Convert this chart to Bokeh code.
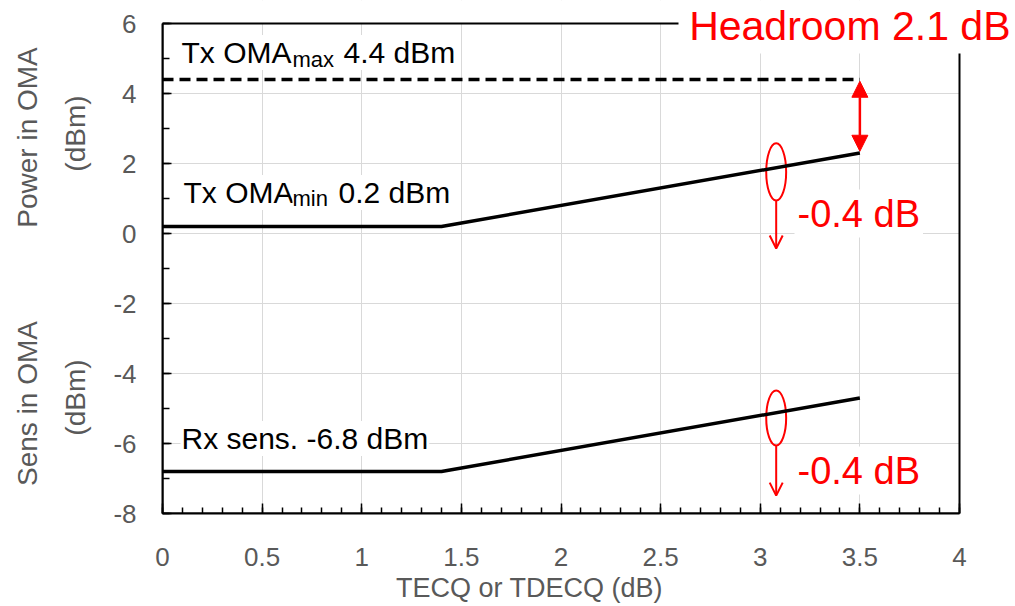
import math
from bokeh.plotting import figure
from bokeh.models import (Label, Arrow, NormalHead, OpenHead, Range1d, LinearAxis,
                          FixedTicker, SingleIntervalTicker, BoxAnnotation)
from bokeh.embed import file_html
from bokeh.resources import INLINE

# ---------------- data ----------------
tecq = [0.0, 1.4, 3.5]
tx_oma_min = [0.2, 0.2, 2.3]
rx_sens = [-6.8, -6.8, -4.7]
tx_max_x = [0.0, 3.5]
tx_oma_max = [4.4, 4.4]

x_ticks = [0, 0.5, 1, 1.5, 2, 2.5, 3, 3.5, 4]
y_ticks = [-8, -6, -4, -2, 0, 2, 4, 6]
x_min, x_max = 0.0, 4.0
y_min, y_max = -8.0, 6.0

headroom_x = 3.5
ellipse_x = [3.08, 3.08]
ellipse_y = [1.76, -5.27]
ellipse_w = [0.1, 0.1]
ellipse_h = [1.63, 1.57]
drop_start = [0.94, -6.06]
drop_end = [-0.43, -7.49]

FONT = "Liberation Sans"
GRAY = "#595959"
RED = "#ff0000"

W, H = 1015, 606
L, B = 162, 93
FW, FH = 797, 490          # size of the 0..4 / -8..6 box in pixels
T_BOX = 23                 # top of the box from the top of the page

sx = (x_max - x_min) / FW
sy = (y_max - y_min) / FH
x_hi = x_min + (W - L) * sx
y_hi = y_max + T_BOX * sy

p = figure(width=W, height=H, output_backend="svg", toolbar_location=None,
           x_range=Range1d(x_min, x_hi), y_range=Range1d(y_min, y_hi),
           min_border_left=L, min_border_right=0, min_border_top=0,
           min_border_bottom=B)
p.background_fill_color = "white"
p.border_fill_color = "white"
p.outline_line_color = None

def dx(px):
    return x_min + (px - L) * sx
def dy(py):
    return y_max - (py - T_BOX) * sy

# axes
for ax in (p.xaxis[0], p.yaxis[0]):
    ax.axis_line_color = "black"
    ax.axis_line_width = 2
    ax.major_tick_line_color = "black"
    ax.minor_tick_line_color = "black"
    ax.major_tick_line_width = 1.5
    ax.minor_tick_line_width = 1.5
    ax.major_tick_out = 0
    ax.minor_tick_out = 0
    ax.major_label_text_font = FONT
    ax.major_label_text_color = GRAY
    ax.major_label_text_font_size = "26px"
    ax.major_label_text_font_style = "normal"

p.xaxis.bounds = (x_min, x_max)
p.xaxis.ticker = SingleIntervalTicker(interval=0.5, num_minor_ticks=5)
p.xaxis.major_tick_in = 10
p.xaxis.minor_tick_in = 6
p.xaxis.major_label_standoff = 34
p.xaxis.major_label_overrides = {0: "0", 1: "1", 2: "2", 3: "3", 4: "4"}

p.yaxis.bounds = (y_min, y_max)
p.yaxis.ticker = SingleIntervalTicker(interval=2, num_minor_ticks=2)
p.yaxis.major_tick_in = 9
p.yaxis.minor_tick_in = 7
p.yaxis.major_label_standoff = 26
p.yaxis.major_label_overrides = {t: str(t) for t in y_ticks}

p.xgrid.ticker = FixedTicker(ticks=x_ticks[1:-1])
p.ygrid.ticker = FixedTicker(ticks=y_ticks[1:-1])
p.grid.grid_line_color = "#d9d9d9"
p.grid.grid_line_width = 1

# hide grid outside the plot box
p.add_layout(BoxAnnotation(bottom=y_max, fill_color="white", fill_alpha=1,
                           line_color=None, level="underlay"))
p.add_layout(BoxAnnotation(left=x_max, fill_color="white", fill_alpha=1,
                           line_color=None, level="underlay"))

# titles as extra axes (not clipped)
def title_axis(side, labels, standoff, size, orient):
    ax = LinearAxis(ticker=FixedTicker(ticks=list(labels.keys())),
                    major_label_overrides=labels,
                    axis_line_color=None, major_tick_line_color=None,
                    minor_tick_line_color=None, major_tick_in=0, major_tick_out=0,
                    minor_tick_in=0, minor_tick_out=0,
                    major_label_standoff=standoff,
                    major_label_text_font=FONT, major_label_text_color=GRAY,
                    major_label_text_font_size=f"{size}px",
                    major_label_orientation=orient)
    p.add_layout(ax, side)

title_axis("left", {round(dy(133), 3): "(dBm)", round(dy(397), 3): "(dBm)"},
           19, 28, "vertical")
title_axis("left", {round(dy(137), 3): "Power in OMA", round(dy(403), 3): "Sens in OMA"},
           14, 28, "vertical")
title_axis("below", {round(dx(529), 3): "TECQ or TDECQ (dB)"}, 4, 27, "horizontal")

# lines (drawn above the white label boxes)
r1 = p.line(tx_max_x, tx_oma_max, line_color="black", line_width=3.5, line_dash="11 6")
r2 = p.line(tecq, tx_oma_min, line_color="black", line_width=3.5)
r3 = p.line(tecq, rx_sens, line_color="black", line_width=3.5)
for r in (r1, r2, r3):
    r.level = "overlay"

# plot box border
p.add_layout(BoxAnnotation(left=x_min, right=x_max, bottom=y_min, top=y_max,
                           fill_color=None, fill_alpha=0,
                           line_color="black", line_alpha=1, line_width=2))
# white area behind the headroom text
p.add_layout(BoxAnnotation(left=dx(678), bottom=dy(53), fill_color="white",
                           fill_alpha=1, line_color=None))

# red ellipses + drop arrows
p.ellipse(x=ellipse_x, y=ellipse_y, width=ellipse_w, height=ellipse_h,
          fill_color=None, line_color=RED, line_width=2)
for i in range(2):
    p.add_layout(Arrow(x_start=ellipse_x[i], y_start=drop_start[i],
                       x_end=ellipse_x[i], y_end=drop_end[i],
                       line_color=RED, line_width=2,
                       end=OpenHead(size=13, line_color=RED, line_width=2)))

# headroom double arrow
p.add_layout(Arrow(x_start=headroom_x, y_start=tx_oma_min[-1] + 0.05,
                   x_end=headroom_x, y_end=tx_oma_max[-1] - 0.05,
                   line_color=RED, line_width=2.5,
                   start=NormalHead(size=16, fill_color=RED, line_color=RED),
                   end=NormalHead(size=16, fill_color=RED, line_color=RED)))

def lab(text, px, py, size, color="black", align="left", baseline="alphabetic",
        bg="white", pad=2):
    p.add_layout(Label(x=dx(px), y=dy(py), text=text, text_font=FONT,
                       text_font_size=f"{size}px", text_color=color,
                       text_align=align, text_baseline=baseline,
                       background_fill_color=bg, padding=pad))

# black annotations (Bokeh places the alphabetic baseline ~1/3 em lower)
lab("Tx OMA", 180, 52, 30, pad=1)
lab("max", 292, 59, 22, pad=0)
lab("4.4 dBm", 342, 52, 30, pad=1)
lab("Tx OMA", 182, 192, 30, pad=1)
lab("min", 292, 198, 22, pad=0)
lab("0.2 dBm", 337, 192, 30, pad=1)
lab("Rx sens. -6.8 dBm", 180, 438, 30, pad=1)

# red annotations
lab("Headroom 2.1 dB", 1010, 25, 41, color=RED, align="right", bg=None, pad=0)
lab("-0.4 dB", 794, 213, 38, color=RED, baseline="middle", pad=3)
lab("-0.4 dB", 794, 470, 38, color=RED, baseline="middle", pad=3)

open("out.html", "w").write(file_html(p, INLINE))
